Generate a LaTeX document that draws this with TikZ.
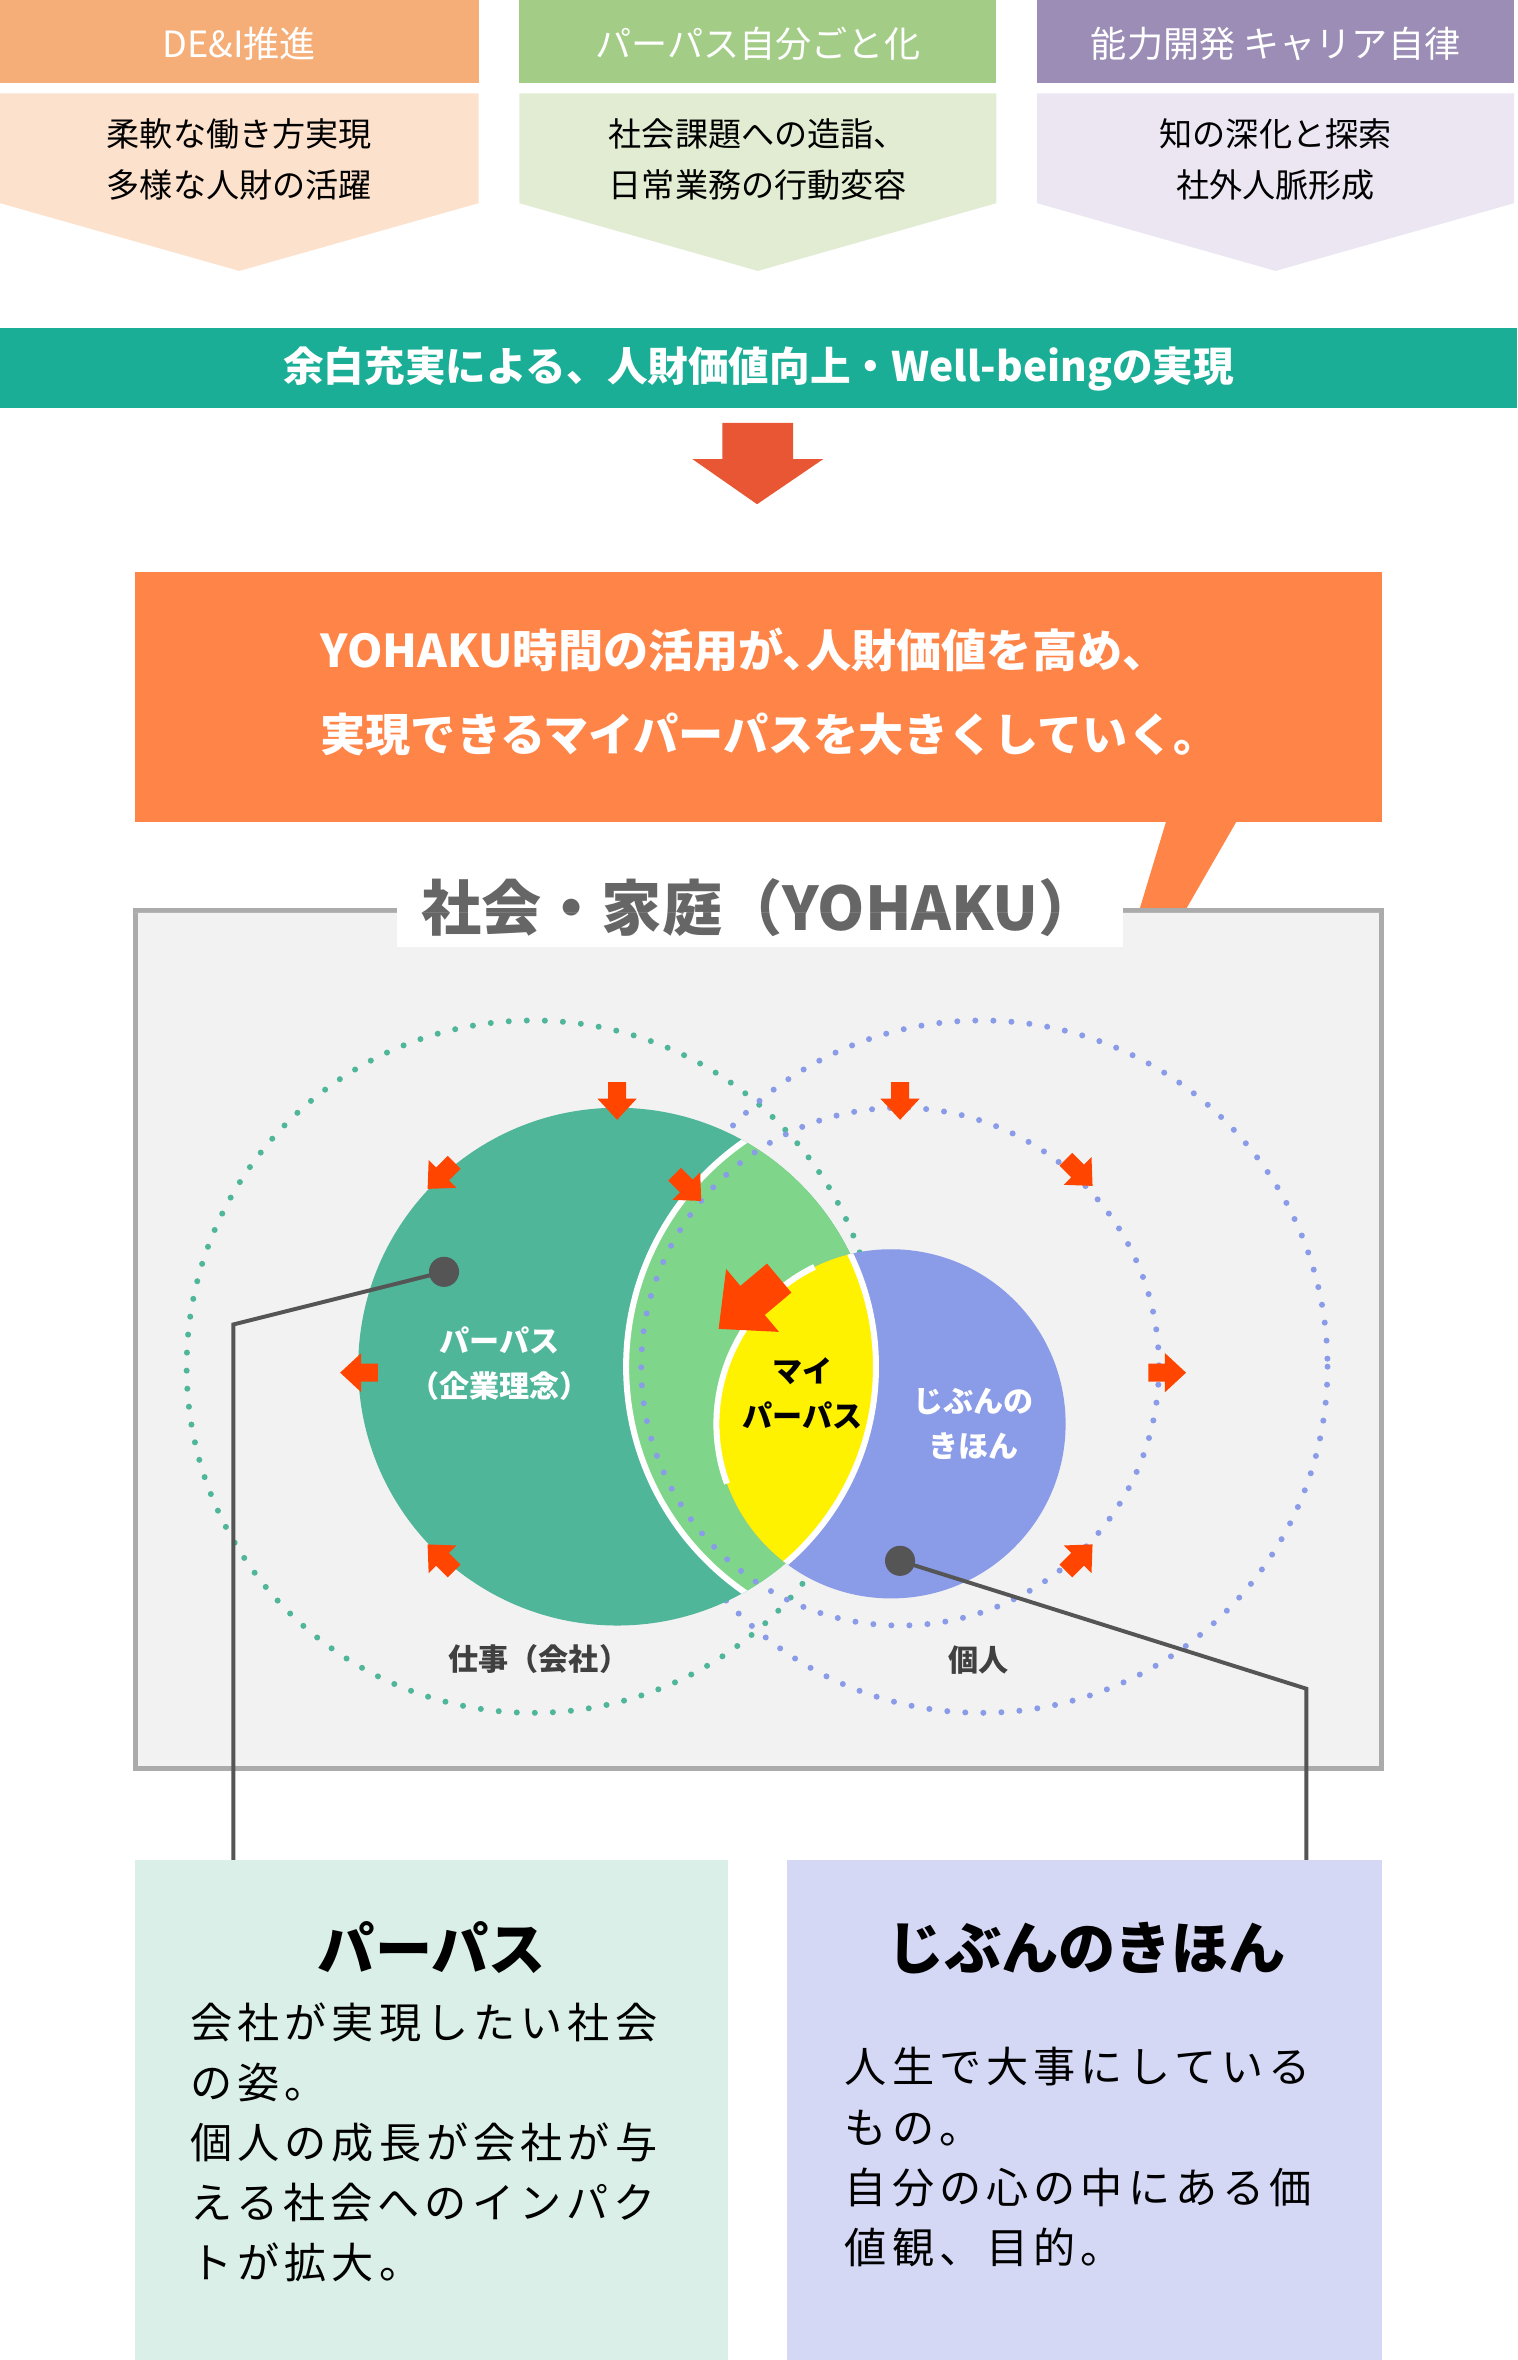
\documentclass[tikz,border=0pt]{standalone}
\usepackage{fontspec}
\setmainfont{Noto Sans CJK JP}
\usetikzlibrary{positioning}
\definecolor{hdA}{HTML}{F5AE78}\definecolor{bdA}{HTML}{FCE1CC}
\definecolor{hdB}{HTML}{A3CD87}\definecolor{bdB}{HTML}{E1ECD2}
\definecolor{hdC}{HTML}{9B8DB5}\definecolor{bdC}{HTML}{ECE6F2}
\definecolor{band}{HTML}{1BAE97}\definecolor{downarr}{HTML}{E85634}
\definecolor{callout}{HTML}{FF8447}\definecolor{teal}{HTML}{4FB69A}
\definecolor{lgreen}{HTML}{7FD68A}\definecolor{blued}{HTML}{8A9BE8}
\definecolor{redarr}{HTML}{FF4500}\definecolor{dotline}{HTML}{555555}
\definecolor{boxL}{HTML}{DAEFE8}\definecolor{boxR}{HTML}{D5D8F5}
\newcommand\fatarr[4]{\fill[redarr,shift={(#1,#2)},rotate=#3,scale=#4] (-11,-6)--(0,-6)--(0,-13)--(14,0)--(0,13)--(0,6)--(-11,6)--cycle;}
\begin{document}
\begin{tikzpicture}[x=0.5pt,y=-0.5pt,
  head/.style={text=white,font=\fontsize{12}{14}\selectfont},
  body/.style={align=center,font=\fontsize{11}{17}\selectfont},
  lbl/.style={align=center,font=\bfseries\fontsize{10}{15}\selectfont},
  para/.style={align=left,anchor=north west,font=\fontsize{14}{20}\selectfont\addfontfeatures{LetterSpace=12}},
  ttl/.style={font=\bfseries\fontsize{19}{22}\selectfont}]
  \useasboundingbox (0,0) rectangle (1008,1568);
  % top three columns
  \foreach \xa/\xb/\h/\b/\t/\s in {0/318/hdA/bdA/{DE\&I推進}/{柔軟な働き方実現\\多様な人財の活躍},
      345/662/hdB/bdB/{パーパス自分ごと化}/{社会課題への造詣、\\日常業務の行動変容},
      689/1006/hdC/bdC/{能力開発 キャリア自律}/{知の深化と探索\\社外人脈形成}}{
    \fill[\h] (\xa,0) rectangle (\xb,55);
    \fill[\b] (\xa,62)--(\xb,62)--(\xb,135)--({(\xa+\xb)/2},180)--(\xa,135)--cycle;
    \node[head] at ({(\xa+\xb)/2},29) {\t};
    \node[body] at ({(\xa+\xb)/2},106) {\s};
  }
  \fill[band] (0,218) rectangle (1008,271);
  \node[text=white,font=\bfseries\fontsize{13.5}{16}\selectfont] (band) at (504,245) {余白充実による、人財価値向上・Well-beingの実現};
  \fill[downarr] (480,281)--(527,281)--(527,305)--(547,305)--(503,335)--(460,305)--(480,305)--cycle;
  % callout
  \fill[callout] (90,380) rectangle (918,546);
  \fill[callout] (775,545)--(822,545)--(723,717)--cycle;
  \node[text=white,align=left,anchor=west,font=\bfseries\fontsize{15}{28}\selectfont] (msg) at (206,460)
    {YOHAKU時間の活用が､人財価値を高め、\\実現できるマイパーパスを大きくしていく。};
  % society box
  \draw[line width=1.6pt,draw=black!33,fill=black!5] (90,605) rectangle (918,1175);
  \node[fill=white,text=black!60,inner xsep=8pt,font=\bfseries\fontsize{20}{24}\selectfont] (soc) at (505,603) {社会・家庭（YOHAKU）};
  \fill[white] (90,606) rectangle (917,606);
  % circles
  \draw[teal,line width=2pt,dash pattern=on 0pt off 6pt,line cap=round] (354,908) circle (230);
  \draw[blued,line width=2pt,dash pattern=on 0pt off 6pt,line cap=round] (652,908) circle (230);
  \fill[teal] (410,908) circle (172);
  \begin{scope}
    \clip (410,908) circle (172);
    \fill[lgreen] (598,908) circle (182);
    \draw[white,line width=2pt] (598,908) circle (182);
  \end{scope}
  \draw[blued,line width=2pt,dash pattern=on 0pt off 6pt,line cap=round] (598,908) circle (172);
  \fill[blued] (592,946) circle (116);
  \begin{scope}
    \clip (592,946) circle (116);
    \fill[yellow] (410,908) circle (172);
    \draw[white,line width=2pt] (410,908) circle (172);
  \end{scope}
  \draw[white,line width=2pt] (592,946) ++(-116:116) arc[start angle=-116,end angle=-200,radius=116];
  \node[lbl,text=white] (pp) at (332,906) {パーパス\\（企業理念）};
  \node[lbl] (my) at (533,926) {マイ\\パーパス};
  \node[lbl,text=white] (jb) at (647,946) {じぶんの\\きほん};
  \node[lbl,font=\fontsize{10}{12}\selectfont\bfseries\color{black!75}] (work) at (358,1102) {仕事（会社）};
  \node[lbl,font=\fontsize{10}{12}\selectfont\bfseries\color{black!75}] (self) at (650,1103) {個人};
  % arrows
  \fatarr{410}{730}{-90}{1}\fatarr{294}{780}{-135}{1}\fatarr{240}{912}{180}{1}
  \fatarr{294}{1036}{135}{1}\fatarr{456}{788}{-45}{1}
  \fatarr{598}{730}{-90}{1}\fatarr{716}{778}{-45}{1}\fatarr{774}{912}{0}{1}\fatarr{716}{1036}{45}{1}
  \fatarr{500}{864}{-140}{2.1}
  % leader lines
  \coordinate (dA) at (295,845); \coordinate (dB) at (598,1037);
  \node[below=0pt of dA] {};
  \coordinate (kA) at (155,880); \coordinate (eA) at (155,1236);
  \coordinate (kB) at (868,1122); \coordinate (eB) at (868,1236);
  \draw[dotline,line width=1.3pt] (dA)--(kA)--(eA);
  \draw[dotline,line width=1.3pt] (dB)--(kB)--(eB);
  \fill[dotline] (dA) circle (10); \fill[dotline] (dB) circle (10);
  % bottom boxes
  \fill[boxL] (90,1236) rectangle (484,1568);
  \fill[boxR] (523,1236) rectangle (918,1568);
  \node[ttl] (tL) at (287,1294) {パーパス};
  \node[ttl] (tR) at (722,1294) {じぶんのきほん};
  \node[para,inner sep=0pt] (pL) at (126,1330) {会社が実現したい社会\\の姿。\\個人の成長が会社が与\\える社会へのインパク\\トが拡大。};
  \node[para,inner sep=0pt] (pR) at (561,1360) {人生で大事にしている\\もの。\\自分の心の中にある価\\値観、目的。};
\end{tikzpicture}
\end{document}
